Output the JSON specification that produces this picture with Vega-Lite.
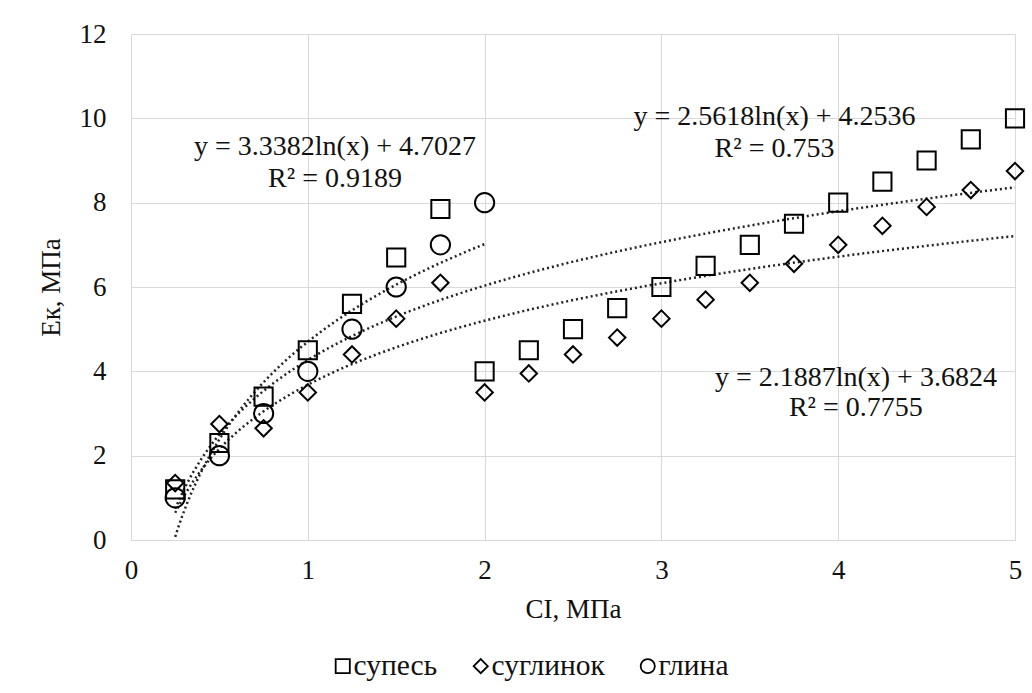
{
  "$schema": "https://vega.github.io/schema/vega-lite/v6.json",
  "width": 884,
  "height": 506,
  "autosize": {"type": "none"},
  "padding": {"left": 131, "top": 34, "right": 17, "bottom": 153},
  "background": "white",
  "config": {
    "font": "Liberation Serif",
    "view": {"stroke": null},
    "axis": {
      "gridColor": "#d9d9d9",
      "gridWidth": 1,
      "domainColor": "#d9d9d9",
      "domainWidth": 1,
      "ticks": false,
      "tickSize": 0,
      "labelFlush": false,
      "labelFont": "Liberation Serif",
      "labelFontSize": 27,
      "labelColor": "#111111",
      "titleFont": "Liberation Serif",
      "titleFontSize": 27,
      "titleFontWeight": "normal",
      "titleColor": "#111111"
    }
  },
  "datasets": {
    "pts": [
      {"x": 0.25, "y": 1.2, "soil": "супесь"},
      {"x": 0.5, "y": 2.3, "soil": "супесь"},
      {"x": 0.75, "y": 3.4, "soil": "супесь"},
      {"x": 1.0, "y": 4.5, "soil": "супесь"},
      {"x": 1.25, "y": 5.6, "soil": "супесь"},
      {"x": 1.5, "y": 6.7, "soil": "супесь"},
      {"x": 1.75, "y": 7.85, "soil": "супесь"},
      {"x": 2.0, "y": 4.0, "soil": "супесь"},
      {"x": 2.25, "y": 4.5, "soil": "супесь"},
      {"x": 2.5, "y": 5.0, "soil": "супесь"},
      {"x": 2.75, "y": 5.5, "soil": "супесь"},
      {"x": 3.0, "y": 6.0, "soil": "супесь"},
      {"x": 3.25, "y": 6.5, "soil": "супесь"},
      {"x": 3.5, "y": 7.0, "soil": "супесь"},
      {"x": 3.75, "y": 7.5, "soil": "супесь"},
      {"x": 4.0, "y": 8.0, "soil": "супесь"},
      {"x": 4.25, "y": 8.5, "soil": "супесь"},
      {"x": 4.5, "y": 9.0, "soil": "супесь"},
      {"x": 4.75, "y": 9.5, "soil": "супесь"},
      {"x": 5.0, "y": 10.0, "soil": "супесь"},
      {"x": 0.25, "y": 1.35, "soil": "суглинок"},
      {"x": 0.5, "y": 2.75, "soil": "суглинок"},
      {"x": 0.75, "y": 2.65, "soil": "суглинок"},
      {"x": 1.0, "y": 3.5, "soil": "суглинок"},
      {"x": 1.25, "y": 4.4, "soil": "суглинок"},
      {"x": 1.5, "y": 5.25, "soil": "суглинок"},
      {"x": 1.75, "y": 6.1, "soil": "суглинок"},
      {"x": 2.0, "y": 3.5, "soil": "суглинок"},
      {"x": 2.25, "y": 3.95, "soil": "суглинок"},
      {"x": 2.5, "y": 4.4, "soil": "суглинок"},
      {"x": 2.75, "y": 4.8, "soil": "суглинок"},
      {"x": 3.0, "y": 5.25, "soil": "суглинок"},
      {"x": 3.25, "y": 5.7, "soil": "суглинок"},
      {"x": 3.5, "y": 6.1, "soil": "суглинок"},
      {"x": 3.75, "y": 6.55, "soil": "суглинок"},
      {"x": 4.0, "y": 7.0, "soil": "суглинок"},
      {"x": 4.25, "y": 7.45, "soil": "суглинок"},
      {"x": 4.5, "y": 7.9, "soil": "суглинок"},
      {"x": 4.75, "y": 8.3, "soil": "суглинок"},
      {"x": 5.0, "y": 8.75, "soil": "суглинок"},
      {"x": 0.25, "y": 1.0, "soil": "глина"},
      {"x": 0.5, "y": 2.0, "soil": "глина"},
      {"x": 0.75, "y": 3.0, "soil": "глина"},
      {"x": 1.0, "y": 4.0, "soil": "глина"},
      {"x": 1.25, "y": 5.0, "soil": "глина"},
      {"x": 1.5, "y": 6.0, "soil": "глина"},
      {"x": 1.75, "y": 7.0, "soil": "глина"},
      {"x": 2.0, "y": 8.0, "soil": "глина"}
    ],
    "labels": [
      {"tx": 1.154, "ty": 9.13, "label": "y = 3.3382ln(x) + 4.7027"},
      {"tx": 1.154, "ty": 8.37, "label": "R² = 0.9189"},
      {"tx": 3.64, "ty": 9.84, "label": "y = 2.5618ln(x) + 4.2536"},
      {"tx": 3.64, "ty": 9.08, "label": "R² = 0.753"},
      {"tx": 4.1, "ty": 3.65, "label": "y = 2.1887ln(x) + 3.6824"},
      {"tx": 4.1, "ty": 2.94, "label": "R² = 0.7755"}
    ]
  },
  "layer": [
    {
      "data": {"name": "pts"},
      "transform": [{"regression": "y", "on": "x", "method": "log", "groupby": ["soil"]}],
      "mark": {"type": "line", "strokeDash": [2, 3], "strokeWidth": 2.5, "color": "#222222"},
      "encoding": {
        "x": {"field": "x", "type": "quantitative", "scale": {"domain": [0, 5]}},
        "y": {"field": "y", "type": "quantitative", "scale": {"domain": [0, 12]}},
        "detail": {"field": "soil"}
      }
    },
    {
      "data": {"name": "pts"},
      "transform": [{"filter": "datum.soil === 'супесь'"}],
      "mark": {"type": "point", "filled": false, "strokeWidth": 2, "color": "#000000", "opacity": 1, "size": 330},
      "encoding": {
        "x": {
          "field": "x", "type": "quantitative",
          "scale": {"domain": [0, 5]},
          "axis": {"values": [0, 1, 2, 3, 4, 5], "format": "d", "labelPadding": 17, "title": "CI, МПа", "titlePadding": 13}
        },
        "y": {
          "field": "y", "type": "quantitative",
          "scale": {"domain": [0, 12]},
          "axis": {"values": [0, 2, 4, 6, 8, 10, 12], "format": "d", "labelPadding": 25, "title": "Eк, МПа", "titlePadding": 14}
        },
        "shape": {
          "field": "soil", "type": "nominal",
          "scale": {"domain": ["супесь", "суглинок", "глина"], "range": ["square", "diamond", "circle"]},
          "legend": {
            "title": null,
            "orient": "none",
            "direction": "horizontal",
            "legendX": 197,
            "legendY": 617,
            "symbolStrokeColor": "#000000",
            "symbolFillColor": "transparent",
            "symbolStrokeWidth": 1.8,
            "symbolSize": 200,
            "labelFont": "Liberation Serif",
            "labelFontSize": 29.5,
            "labelColor": "#111111",
            "labelOffset": -4,
            "columnPadding": 28
          }
        }
      }
    },
    {
      "data": {"name": "pts"},
      "transform": [{"filter": "datum.soil === 'суглинок'"}],
      "mark": {"type": "point", "filled": false, "strokeWidth": 2, "color": "#000000", "opacity": 1, "size": 270},
      "encoding": {
        "x": {"field": "x", "type": "quantitative"},
        "y": {"field": "y", "type": "quantitative"},
        "shape": {"field": "soil", "type": "nominal"}
      }
    },
    {
      "data": {"name": "pts"},
      "transform": [{"filter": "datum.soil === 'глина'"}],
      "mark": {"type": "point", "filled": false, "strokeWidth": 2, "color": "#000000", "opacity": 1, "size": 370},
      "encoding": {
        "x": {"field": "x", "type": "quantitative"},
        "y": {"field": "y", "type": "quantitative"},
        "shape": {"field": "soil", "type": "nominal"}
      }
    },
    {
      "data": {"name": "labels"},
      "mark": {"type": "text", "font": "Liberation Serif", "fontSize": 28, "color": "#111111", "align": "center", "baseline": "alphabetic"},
      "encoding": {
        "x": {"field": "tx", "type": "quantitative"},
        "y": {"field": "ty", "type": "quantitative"},
        "text": {"field": "label"}
      }
    }
  ]
}
